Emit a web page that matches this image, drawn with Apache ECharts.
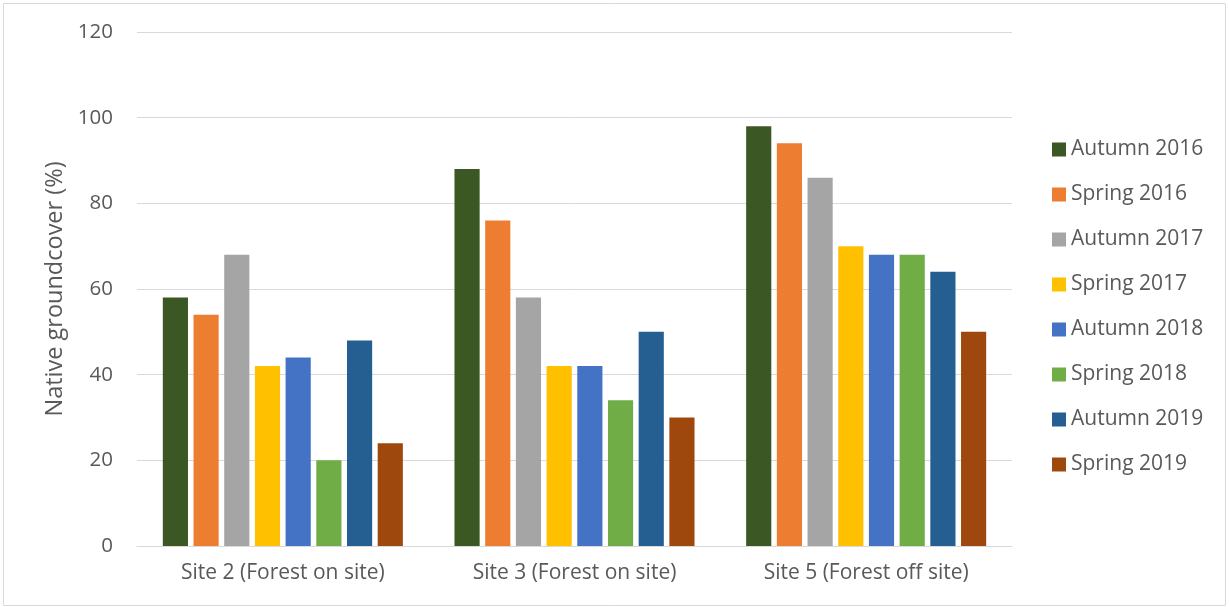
<!DOCTYPE html>
<html>
<head>
<meta charset="utf-8">
<script src="https://cdn.jsdelivr.net/npm/echarts@6/dist/echarts.min.js"></script>
<style>
  html, body { margin: 0; padding: 0; background: #ffffff; }
  #chart { width: 1229px; height: 607px; }
</style>
</head>
<body>
<div id="chart"></div>
<script>
// Sites along the x axis
const sites = ['Site 2 (Forest on site)', 'Site 3 (Forest on site)', 'Site 5 (Forest off site)'];

// Survey seasons (one bar per season within each site)
const seasons = ['Autumn 2016', 'Spring 2016', 'Autumn 2017', 'Spring 2017',
                 'Autumn 2018', 'Spring 2018', 'Autumn 2019', 'Spring 2019'];

// Native groundcover (%) per season, ordered by site
const autumn2016 = [58, 88, 98];
const spring2016 = [54, 76, 94];
const autumn2017 = [68, 58, 86];
const spring2017 = [42, 42, 70];
const autumn2018 = [44, 42, 68];
const spring2018 = [20, 34, 68];
const autumn2019 = [48, 50, 64];
const spring2019 = [24, 30, 50];

const seasonValues = [autumn2016, spring2016, autumn2017, spring2017,
                      autumn2018, spring2018, autumn2019, spring2019];

const seasonColors = ['#3B5724', '#ED7D31', '#A5A5A5', '#FFC000',
                      '#4472C4', '#70AD47', '#255E91', '#9E480E'];

const FONT = 'Open Sans';
const TEXT = '#595959';

const chart = echarts.init(document.getElementById('chart'), null, { renderer: 'canvas' });

chart.setOption({
  animation: false,
  backgroundColor: '#ffffff',
  textStyle: { fontFamily: FONT },
  graphic: [{
    type: 'rect',
    shape: { x: 3.5, y: 3.5, width: 1222, height: 602 },
    style: { fill: 'none', stroke: '#d9d9d9', lineWidth: 1 },
    silent: true
  }],
  grid: { left: 137, right: 217, top: 32, bottom: 61, containLabel: false },
  legend: {
    orient: 'vertical',
    left: 1047,
    top: 134,
    itemWidth: 14,
    itemHeight: 14,
    itemGap: 24,
    icon: 'rect',
    textStyle: { fontFamily: FONT, fontSize: 21, color: TEXT },
    data: seasons
  },
  xAxis: {
    type: 'category',
    data: sites,
    axisTick: { show: false },
    axisLine: { lineStyle: { color: '#d9d9d9', width: 1 } },
    axisLabel: { fontFamily: FONT, fontSize: 21, color: TEXT, margin: 17 }
  },
  yAxis: {
    type: 'value',
    min: 0,
    max: 120,
    interval: 20,
    name: 'Native groundcover (%)',
    nameLocation: 'middle',
    nameGap: 70,
    nameTextStyle: { fontFamily: FONT, fontSize: 23.5, color: TEXT },
    axisLine: { show: false },
    axisTick: { show: false },
    axisLabel: { fontFamily: FONT, fontSize: 20.5, color: TEXT, margin: 24 },
    splitLine: { lineStyle: { color: '#d9d9d9', width: 1 } }
  },
  series: seasons.map((name, i) => ({
    name: name,
    type: 'bar',
    data: seasonValues[i],
    itemStyle: { color: seasonColors[i] },
    barGap: '22%',
    barCategoryGap: '17.7%'
  }))
});
</script>
</body>
</html>
